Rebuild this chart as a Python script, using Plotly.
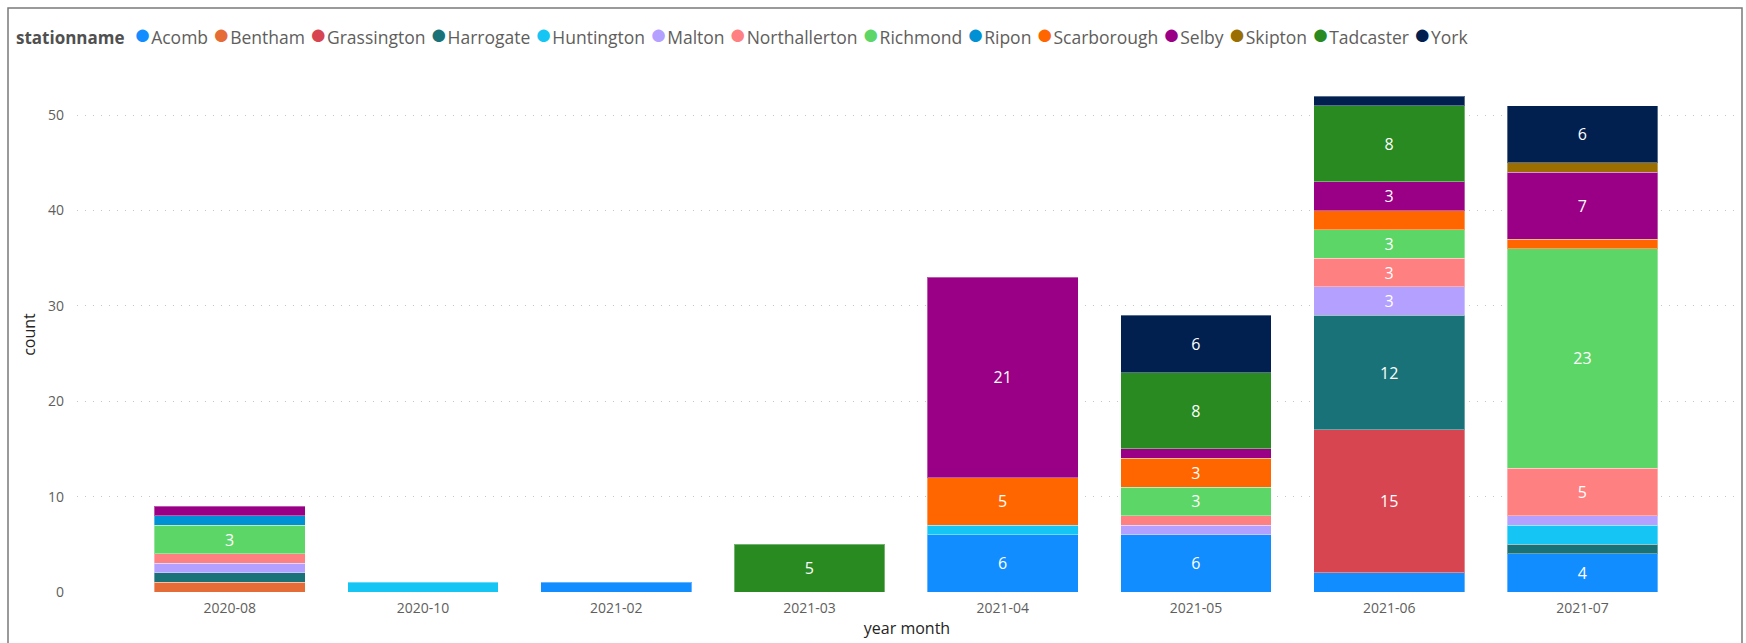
import plotly.graph_objects as go

months = ["2020-08", "2020-10", "2021-02", "2021-03", "2021-04", "2021-05", "2021-06", "2021-07"]

stations = ["Acomb", "Bentham", "Grassington", "Harrogate", "Huntington", "Malton",
            "Northallerton", "Richmond", "Ripon", "Scarborough", "Selby", "Skipton",
            "Tadcaster", "York"]

acomb         = [0, 0, 1, 0, 6, 6, 2, 4]
bentham       = [1, 0, 0, 0, 0, 0, 0, 0]
grassington   = [0, 0, 0, 0, 0, 0, 15, 0]
harrogate     = [1, 0, 0, 0, 0, 0, 12, 1]
huntington    = [0, 1, 0, 0, 1, 0, 0, 2]
malton        = [1, 0, 0, 0, 0, 1, 3, 1]
northallerton = [1, 0, 0, 0, 0, 1, 3, 5]
richmond      = [3, 0, 0, 0, 0, 3, 3, 23]
ripon         = [1, 0, 0, 0, 0, 0, 0, 0]
scarborough   = [0, 0, 0, 0, 5, 3, 2, 1]
selby         = [1, 0, 0, 0, 21, 1, 3, 7]
skipton       = [0, 0, 0, 0, 0, 0, 0, 1]
tadcaster     = [0, 0, 0, 5, 0, 8, 8, 0]
york          = [0, 0, 0, 0, 0, 6, 1, 6]

series = [acomb, bentham, grassington, harrogate, huntington, malton, northallerton,
          richmond, ripon, scarborough, selby, skipton, tadcaster, york]

colors = ["#118DFF", "#E66C37", "#D64550", "#197278", "#15C6F4", "#B4A0FF",
          "#FF8080", "#5DD668", "#0091D5", "#FF6600", "#990085", "#9A6E00",
          "#288A20", "#012050"]

W, H = 1746, 643
L, R, T, B = 77, 9, 77, 51
PW, PH = W - L - R, H - T - B

FONT = "Segoe UI, Open Sans, sans-serif"

fig = go.Figure()
for name, vals, col in zip(stations, series, colors):
    y = [v if v else None for v in vals]
    txt = [str(v) if v >= 3 else "" for v in vals]
    fig.add_trace(go.Bar(
        x=months, y=y, name=name, text=txt,
        marker=dict(color=col, line=dict(color="rgba(255,255,255,0.35)", width=1)),
        textposition="inside", insidetextanchor="middle", textangle=0,
        textfont=dict(color="white", size=16, family=FONT),
        showlegend=False,
    ))

# legend as a single text line
NB = "\u00a0"
parts = [f"<span style='font-size:17px;color:#505050'><b>stationname</b></span>{NB}{NB}"]
for name, col in zip(stations, colors):
    parts.append(f"<span style='color:{col};font-size:29px'>●</span>{name}{NB}")
legend_text = "".join(parts)

def px_x(px):
    return (px - L) / PW

def px_y(py):
    return (H - B - py) / PH

fig.add_annotation(
    text=legend_text, xref="paper", yref="paper",
    x=px_x(14), y=px_y(32), xanchor="left", yanchor="middle",
    showarrow=False, font=dict(size=17.5, color="#605E5C", family=FONT),
)

# visual frame
fig.add_shape(type="rect", xref="paper", yref="paper",
              x0=px_x(8), x1=px_x(1742), y0=px_y(700), y1=px_y(8),
              line=dict(color="#7A7A7A", width=1.5), fillcolor="rgba(0,0,0,0)", layer="above")

fig.update_layout(
    width=W, height=H,
    margin=dict(l=L, r=R, t=T, b=B),
    barmode="stack", bargap=0.22,
    plot_bgcolor="white", paper_bgcolor="white",
    font=dict(family=FONT, color="#605E5C"),
    showlegend=False,
    xaxis=dict(
        type="category", categoryorder="array", categoryarray=months,
        range=[-0.79, 7.80], showgrid=False, showline=False, zeroline=False,
        ticks="", ticklabelstandoff=6,
        tickfont=dict(size=14, color="#605E5C"),
        title=dict(text="year month", font=dict(size=16, color="#252423"), standoff=6),
    ),
    yaxis=dict(
        range=[0, 54], dtick=10, tick0=0,
        showgrid=True, gridcolor="#C8C6C4", gridwidth=1.2, griddash="1px,7px",
        zeroline=False, showline=False, ticks="", ticklabelstandoff=12,
        tickfont=dict(size=14, color="#605E5C"),
        title=dict(text="count", font=dict(size=16, color="#252423"), standoff=8),
    ),
)

fig.write_html("out.html", config={"displayModeBar": False},
               post_script="document.body.style.margin='0';")
